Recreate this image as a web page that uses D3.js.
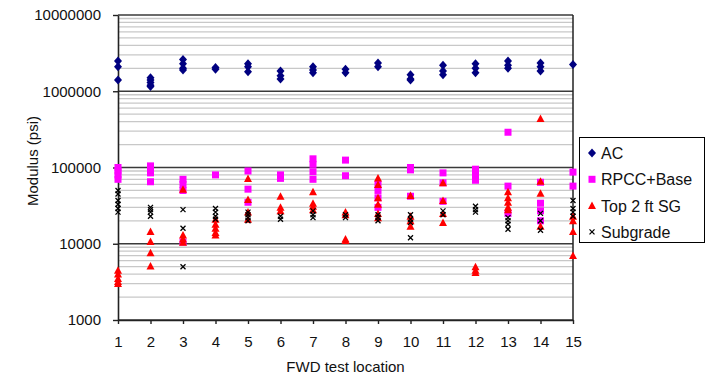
<!DOCTYPE html>
<html><head><meta charset="utf-8">
<script src="https://cdn.jsdelivr.net/npm/d3@7"></script>
<style>
html,body{margin:0;padding:0;background:#fff;}
svg{display:block;font-family:"Liberation Sans",Arial,sans-serif;}
</style></head>
<body><svg id="chart" width="707" height="377"></svg>
<script>
const locations = [1,2,3,4,5,6,7,8,9,10,11,12,13,14,15];
const yTickValues = [1000,10000,100000,1000000,10000000];
const seriesNames = ["AC","RPCC+Base","Top 2 ft SG","Subgrade"];

const acValues = [
 [2500000,2100000,1400000],
 [1500000,1400000,1300000,1200000,1150000],
 [2600000,2300000,2000000,1900000],
 [2050000,1950000],
 [2300000,2100000,1800000],
 [1850000,1600000,1450000],
 [2100000,1900000,1750000],
 [1950000,1750000],
 [2350000,2100000],
 [1650000,1450000,1400000],
 [2200000,1850000,1650000],
 [2300000,2000000,1750000],
 [2500000,2200000,2000000],
 [2350000,2100000,1850000],
 [2250000]
];
const rpccValues = [
 [100000,90000,80000,70000],
 [105000,95000,85000,65000],
 [70000,60000,50000,10500],
 [80000],
 [90000,52000,35000],
 [80000,72000],
 [130000,110000,88000,70000],
 [125000,78000],
 [60000,50000,40000,30000],
 [100000,93000,42000],
 [85000,63000,36000],
 [95000,80000,68000],
 [290000,57000,25000],
 [64000,34000,27000,20000],
 [87000,57000]
];
const topValues = [
 [4500,4000,3500,3200,3000],
 [14500,10700,7600,5100],
 [52000,13000,11500,10500],
 [21000,18000,16000,14000,13000],
 [72000,38000,26000,21000],
 [42000,30000,27000],
 [48000,34000,31000,28000],
 [26000,24000,11500,11000],
 [73000,60000,40000,33000,25000,22000],
 [43000,23000,20000,17000],
 [63000,37000,25000,19000],
 [5000,4500,4200],
 [48000,40000,35000,30000,28000],
 [440000,66000,46000,17000],
 [23000,20000,14500,7000]
];
const subgradeValues = [
 [50000,45000,37000,33000,29000,26000],
 [30000,28000,26000,23000],
 [28000,16000,5000],
 [29000,26000,23000,21000],
 [26000,24000,22000,20000],
 [23000,21000],
 [27000,24000,22000],
 [24000,22000],
 [24000,22000,20000],
 [24000,21000,19000,12000],
 [27000,24000],
 [31000,28000,26000],
 [22000,20000,18000,15500],
 [25000,20000,15000],
 [37000,29000,26000,23000]
];

const svg = d3.select("#chart");
const L = 118, R = 573, T = 15, B = 320;
const x = d3.scaleLinear().domain([1,15]).range([L,R]);
const y = d3.scaleLog().domain([1000,10000000]).range([B,T]);

// minor gridlines
const minor = y.ticks().filter(v => !yTickValues.includes(v));
svg.append("g").selectAll("line").data(minor).join("line")
  .attr("x1",L).attr("x2",R).attr("y1",d=>y(d)).attr("y2",d=>y(d))
  .attr("stroke","#c8c8c8").attr("stroke-width",1.3);
// major gridlines
svg.append("g").selectAll("line").data(yTickValues).join("line")
  .attr("x1",L).attr("x2",R).attr("y1",d=>y(d)).attr("y2",d=>y(d))
  .attr("stroke","#3a3a3a").attr("stroke-width",1.6);
// right border
svg.append("line").attr("x1",R).attr("x2",R).attr("y1",T).attr("y2",B)
  .attr("stroke","#222").attr("stroke-width",1.5);

// axes
const xAxis = svg.append("g").attr("transform",`translate(0,${B})`)
  .call(d3.axisBottom(x).tickValues(locations).tickFormat(d3.format("d")).tickSize(4).tickSizeOuter(0));
const yAxis = svg.append("g").attr("transform",`translate(${L},0)`)
  .call(d3.axisLeft(y).tickValues(yTickValues).tickFormat(d3.format("d")).tickSize(5).tickSizeOuter(0));
[xAxis,yAxis].forEach(a=>{
  a.select(".domain").attr("stroke","#222").attr("stroke-width",1.6);
  a.selectAll(".tick line").attr("stroke","#222").attr("stroke-width",1.4);
  a.selectAll("text").attr("fill","#111").style("font-size","15px")
   .style("font-family","'Liberation Sans',Arial,sans-serif");
});
xAxis.selectAll("text").attr("dy",null).attr("y",27);
yAxis.selectAll("text").attr("x",-17);

// axis titles
svg.append("text").attr("x",(L+R)/2).attr("y",372).attr("text-anchor","middle")
  .style("font-size","15px").attr("fill","#111").text("FWD test location");
svg.append("text").attr("transform","translate(38,161) rotate(-90)").attr("text-anchor","middle")
  .style("font-size","15px").attr("fill","#111").text("Modulus (psi)");

// symbols
const diamondPath = "M0,-4.5L4,0L0,4.5L-4,0Z";
const squarePath = "M-3.5,-3.5H3.5V3.5H-3.5Z";
const trianglePath = "M0,-4L4,3.5H-4Z";
function flatten(arr){ const out=[]; arr.forEach((vals,i)=>vals.forEach(v=>out.push({loc:locations[i],v}))); return out; }

function drawPath(data, path, color){
  svg.append("g").selectAll("path").data(flatten(data)).join("path")
    .attr("transform",d=>`translate(${x(d.loc)},${y(d.v)})`)
    .attr("d",path).attr("fill",color);
}
drawPath(acValues, diamondPath, "#000080");
drawPath(rpccValues, squarePath, "#ff00ff");
drawPath(topValues, trianglePath, "#ff0000");
svg.append("g").selectAll("path").data(flatten(subgradeValues)).join("path")
  .attr("transform",d=>`translate(${x(d.loc)},${y(d.v)})`)
  .attr("d","M-2.5,-2.5L2.5,2.5M-2.5,2.5L2.5,-2.5")
  .attr("stroke","#000").attr("stroke-width",1.3).attr("fill","none");

// legend
const lg = svg.append("g");
lg.append("rect").attr("x",579.5).attr("y",137.5).attr("width",125).attr("height",105)
  .attr("fill","#fff").attr("stroke","#000").attr("stroke-width",1);
const legendPaths = [diamondPath, squarePath, trianglePath, "M-2.5,-2.5L2.5,2.5M-2.5,2.5L2.5,-2.5"];
const legendColors = ["#000080","#ff00ff","#ff0000","#000"];
seriesNames.forEach((name,i)=>{
  const yy = 153 + i*26.3;
  const p = lg.append("path").attr("transform",`translate(592,${yy})`).attr("d",legendPaths[i]);
  if(i===3) p.attr("stroke","#000").attr("stroke-width",1.3).attr("fill","none");
  else p.attr("fill",legendColors[i]);
  lg.append("text").attr("x",601).attr("y",yy+6).style("font-size","16px").attr("fill","#111").text(name);
});
</script>
</body></html>
